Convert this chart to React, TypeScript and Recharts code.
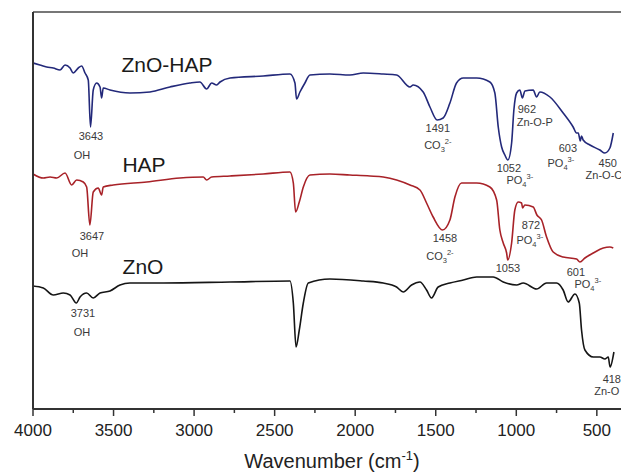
import React from 'react';
import { LineChart, Line, XAxis, YAxis, ReferenceLine, ReferenceDot } from 'recharts';

// wavenumber (cm-1) and offset transmittance (a.u.)
const znoHapW = [4000, 3957, 3915, 3874, 3832, 3801, 3770, 3750, 3719, 3698, 3677, 3657, 3643, 3626, 3605, 3584, 3574, 3564, 3522, 3398, 3274, 3150, 3026, 2964, 2922, 2891, 2860, 2839, 2777, 2571, 2405, 2374, 2364, 2343, 2312, 2281, 2157, 2033, 1950, 1826, 1743, 1660, 1640, 1578, 1536, 1491, 1454, 1412, 1371, 1329, 1246, 1164, 1133, 1112, 1091, 1071, 1052, 1029, 1015, 998, 978, 962, 947, 895, 874, 854, 791, 709, 647, 626, 615, 603, 595, 585, 543, 481, 450, 419, 398];
const znoHapT = [346, 344, 342, 341, 339, 344, 341, 336, 341, 343, 336, 329, 282, 319, 326, 322, 311, 321, 319, 316, 317, 322, 326, 327, 320, 326, 324, 327, 331, 333, 335, 326, 310, 317, 326, 334, 335, 334, 336, 335, 334, 322, 324, 317, 302, 289, 291, 306, 326, 331, 331, 327, 316, 282, 262, 254, 249, 266, 299, 316, 319, 311, 318, 319, 312, 317, 312, 296, 282, 276, 276, 268, 273, 269, 264, 259, 256, 261, 276];

const hapW = [4000, 3936, 3894, 3853, 3801, 3760, 3729, 3688, 3667, 3647, 3626, 3595, 3574, 3564, 3502, 3294, 3088, 2943, 2922, 2891, 2777, 2571, 2405, 2384, 2370, 2347, 2322, 2281, 2157, 2033, 1909, 1826, 1743, 1660, 1598, 1557, 1516, 1458, 1412, 1381, 1340, 1246, 1164, 1122, 1102, 1081, 1060, 1053, 1029, 1009, 988, 967, 961, 947, 895, 872, 843, 812, 771, 709, 626, 605, 574, 522, 460, 419, 398];
const hapT = [235, 231, 232, 231, 236, 224, 229, 227, 222, 184, 217, 221, 214, 222, 224, 227, 231, 232, 229, 232, 233, 235, 237, 226, 197, 207, 222, 234, 235, 234, 233, 232, 229, 224, 219, 206, 192, 179, 189, 212, 226, 226, 222, 209, 179, 166, 156, 149, 166, 199, 207, 206, 201, 204, 202, 194, 189, 172, 157, 152, 150, 147, 151, 156, 161, 162, 161];

const znoW = [4000, 3936, 3874, 3812, 3770, 3731, 3708, 3667, 3626, 3584, 3522, 3460, 3398, 3191, 2777, 2405, 2384, 2367, 2347, 2322, 2291, 2157, 1950, 1826, 1743, 1702, 1650, 1598, 1557, 1526, 1485, 1412, 1329, 1246, 1143, 1081, 998, 957, 874, 812, 750, 709, 678, 636, 609, 595, 574, 522, 481, 450, 429, 418, 394];
const znoT = [123, 121, 114, 116, 114, 106, 112, 116, 111, 116, 118, 124, 126, 126, 127, 128, 106, 62, 79, 106, 126, 130, 128, 126, 122, 117, 124, 127, 119, 111, 122, 126, 129, 132, 132, 127, 124, 126, 120, 126, 126, 119, 107, 115, 106, 79, 59, 52, 52, 50, 52, 42, 57];

const majorTicks = [4000, 3500, 3000, 2500, 2000, 1500, 1000, 500];
const allTicks = [4000, 3750, 3500, 3250, 3000, 2750, 2500, 2250, 2000, 1750, 1500, 1250, 1000, 750, 500];

// label text pieces: [text, 'sub' | 'sup' | '']
type Piece = [string, string];
const CO3: Piece[] = [['CO', ''], ['3', 'sub'], ['2-', 'sup']];
const PO4: Piece[] = [['PO', ''], ['4', 'sub'], ['3-', 'sup']];
const txt = (s: string): Piece[] => [[s, '']];

const seriesNames = ['ZnO-HAP', 'HAP', 'ZnO'];
const seriesColors = ['#23297a', '#a82228', '#151515'];
const seriesLabelW = [3168, 3311, 3317];
const seriesLabelT = [344, 244, 142];

const noteW = [3640, 3696, 1487, 1487, 934, 885, 1046, 978, 680, 723, 432, 456, 3634, 3708, 1443, 1474, 1052, 909, 916, 630, 556, 3690, 3696, 407, 438];
const noteT = [273, 254, 281, 264, 300, 287, 241, 229, 261, 246, 246, 234, 173, 156, 171, 153, 141, 184, 169, 137, 125, 96, 77, 30, 18];
const noteText: Piece[][] = [
  txt('3643'), txt('OH'), txt('1491'), CO3, txt('962'), txt('Zn-O-P'), txt('1052'), PO4, txt('603'), PO4, txt('450'), txt('Zn-O-C'),
  txt('3647'), txt('OH'), txt('1458'), CO3, txt('1053'), txt('872'), PO4, txt('601'), PO4,
  txt('3731'), txt('OH'), txt('418'), txt('Zn-O'),
];

const toPoints = (w: number[], t: number[]) => w.map((v, i) => ({ w: v, t: t[i] }));
const series = [toPoints(znoHapW, znoHapT), toPoints(hapW, hapT), toPoints(znoW, znoT)];

const FONT = '"Liberation Sans", Arial, sans-serif';

const AxisTick = (props: any) => {
  const { x, y, payload } = props;
  const major = majorTicks.includes(payload.value);
  return (
    <g>
      <line x1={x} x2={x} y1={y} y2={y + (major ? 7 : 4)} stroke="#333" strokeWidth={1.5} />
      {major && (
        <text x={x} y={y + 27} textAnchor="middle" fontSize={17} fill="#222" fontFamily={FONT}>
          {payload.value}
        </text>
      )}
    </g>
  );
};

const noteShape = (pieces: Piece[]) => (p: any) => (
  <text x={p.cx} y={p.cy} dy="0.35em" textAnchor="middle" fontSize={11} fill="#3a3a3a" fontFamily={FONT}>
    {pieces.map(([s, kind], i) => (
      <tspan key={i} fontSize={kind ? 7.5 : undefined} dy={kind === 'sub' ? 3 : kind === 'sup' ? -8 : i > 0 ? 5 : undefined}>
        {s}
      </tspan>
    ))}
  </text>
);

const nameShape = (name: string) => (p: any) => (
  <text x={p.cx} y={p.cy} dy="0.35em" textAnchor="middle" fontSize={21} fill="#1a1a1a" fontFamily={FONT}>
    {name}
  </text>
);

export default function App() {
  return (
    <div style={{ position: 'absolute', left: 0, top: 0, width: 621, height: 473, background: '#fff' }}>
      <LineChart width={621} height={473} margin={{ top: 12, right: 0, left: 32, bottom: 0 }}>
        <XAxis
          type="number"
          dataKey="w"
          domain={[350, 4000]}
          reversed
          allowDataOverflow
          ticks={allTicks}
          interval={0}
          height={64}
          tickLine={false}
          tickSize={0}
          tickMargin={0}
          tick={<AxisTick />}
          axisLine={{ stroke: '#333', strokeWidth: 2 }}
          label={{
            content: () => (
              <text x={332} y={468} textAnchor="middle" fontSize={20} fill="#222" fontFamily={FONT}>
                Wavenumber (cm
                <tspan fontSize={13} dy={-8}>-1</tspan>
                <tspan dy={8}>)</tspan>
              </text>
            ),
          }}
        />
        <YAxis
          type="number"
          domain={[0, 397]}
          width={1}
          tick={false}
          tickLine={false}
          axisLine={{ stroke: '#333', strokeWidth: 2 }}
        />
        <ReferenceLine y={397} stroke="#777" strokeWidth={2} />
        {series.map((d, i) => (
          <Line
            key={seriesNames[i]}
            data={d}
            dataKey="t"
            name={seriesNames[i]}
            type="monotone"
            stroke={seriesColors[i]}
            strokeWidth={1.6}
            dot={false}
            isAnimationActive={false}
          />
        ))}
        {seriesNames.map((n, i) => (
          <ReferenceDot key={n} x={seriesLabelW[i]} y={seriesLabelT[i]} r={0} shape={nameShape(n)} />
        ))}
        {noteText.map((pieces, i) => (
          <ReferenceDot key={i} x={noteW[i]} y={noteT[i]} r={0} shape={noteShape(pieces)} />
        ))}
      </LineChart>
    </div>
  );
}
